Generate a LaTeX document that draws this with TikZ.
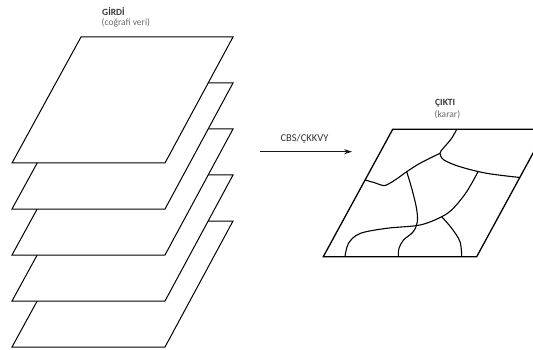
\documentclass[tikz,border=0pt]{standalone}
\usepackage{fontspec}
\setsansfont{Carlito}
\usetikzlibrary{arrows.meta}

\begin{document}
\begin{tikzpicture}[
  x=1pt, y=-1pt,
  font=\sffamily,
  >={Stealth[length=2.8mm,width=1.8mm]},
  layer/.style={draw=black, fill=white, line width=1.0pt, line join=miter},
  border/.style={draw=black, line width=1.3pt, line join=miter},
  zone/.style={draw=black, line width=1.1pt, smooth, tension=0.55},
  flow/.style={->, draw=black!90, line width=1.3pt},
  head/.style={font=\fontsize{9.5}{11}\selectfont\sffamily\bfseries,
               text=black!78, inner sep=0pt, anchor=base west},
  sub/.style={font=\fontsize{9.5}{11}\selectfont\sffamily,
              text=black!58, inner sep=0pt, anchor=base west},
]

% --- fixed bounding box (white background) ---
\useasboundingbox (0,0) rectangle (533,350);
\fill[white] (0,0) rectangle (533,350);
\clip (0,0) rectangle (533,350);

% ============================ INPUT =================================
% stack of data layers, drawn bottom first so each one hides the next
\draw[layer] (12,347) -- (165,347) -- (233,221) -- (81,221) -- cycle;
\draw[layer] (12,301) -- (165,301) -- (233,175) -- (81,175) -- cycle;
\draw[layer] (12,255) -- (165,255) -- (233,129) -- (81,129) -- cycle;
\draw[layer] (12,209) -- (165,209) -- (233,83)  -- (81,83)  -- cycle;
\draw[layer] (12,163) -- (165,163) -- (233,37)  -- (81,37)  -- cycle;

\node[head] (girdi) at (102,15.2) {GİRDİ};
\node[sub] (girdisub) at (101.5,26) {(coğrafi veri)};

% ============================ PROCESS ===============================
\node[font=\fontsize{10.5}{12}\selectfont\sffamily, text=black!80,
      inner sep=0pt, anchor=base] (cbs) at (304.5,141.8) {CBS/ÇKKVY};
\coordinate (flowin)  at (260,151.7);
\coordinate (flowout) at (352,151.7);
\draw[flow] (flowin) -- (flowout);

% ============================ OUTPUT ================================
\draw[border] (323.3,256.7) -- (476.7,256.7) -- (546,129.3)
              -- (392.7,129.3) -- cycle;

% decision zones
\draw[zone] plot coordinates {(456.7,129.3) (451.5,138.5) (443.5,148)
  (440,153.3) (444,160) (460,166.7) (486.7,173.3) (520,177.5)};
\draw[zone] plot coordinates {(365.2,180) (376,183.2) (383.3,185.6)
  (388.5,184) (398,178) (406.7,171.7) (420,163.3) (440,153.3)};
\draw[zone] plot coordinates {(406.7,171.7) (411.7,188.3) (416.5,208.3)
  (417.3,222) (413,232) (403.5,240) (399,248.3) (398.3,256.7)};
\draw[zone] plot coordinates {(478.3,171.2) (466.7,191.7) (453.3,208.3)
  (441.7,216.7) (420,225) (386.7,228.3) (360,233.5) (348.5,243.3)
  (345,256.7)};
\draw[zone] plot coordinates {(441.7,216.7) (451.7,228.3) (460,241.7)
  (461.7,256.7)};

\node[head] (cikti) at (435,105.2) {ÇIKTI};
\node[sub] (ciktisub) at (434.5,118) {(karar)};

\end{tikzpicture}
\end{document}
